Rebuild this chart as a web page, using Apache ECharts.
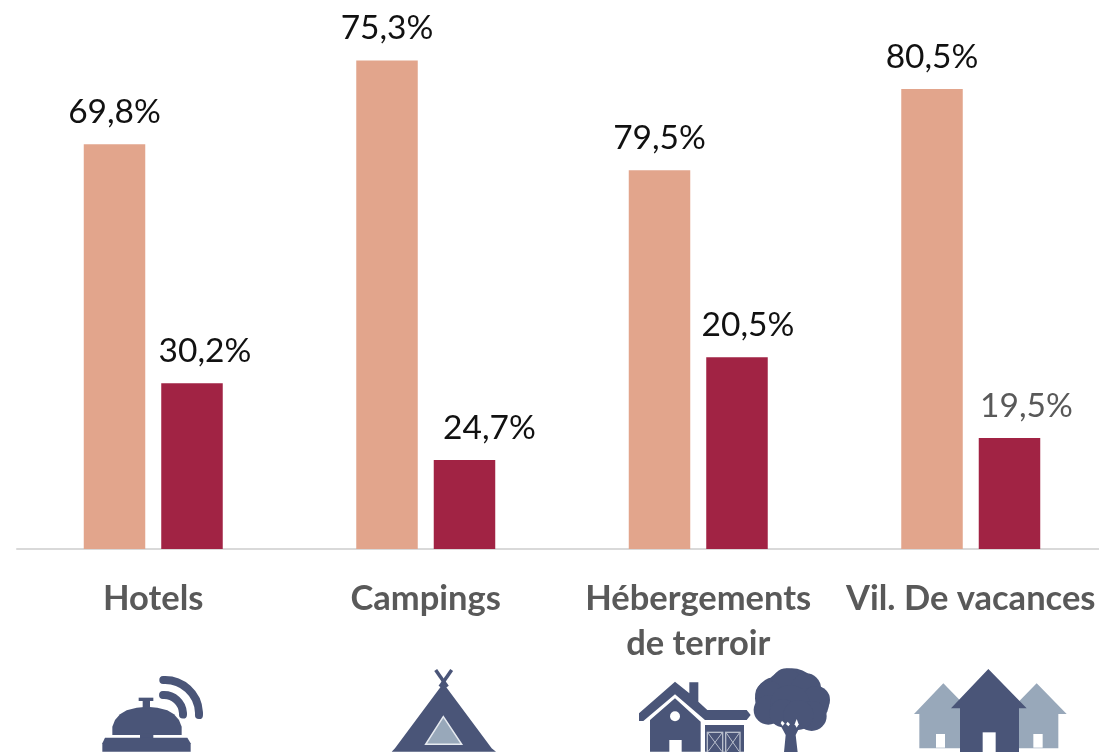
<!DOCTYPE html>
<html><head><meta charset="utf-8">
<style>html,body{margin:0;padding:0;background:#fff}#c{width:1099px;height:752px}</style>
<script src="https://cdn.jsdelivr.net/npm/echarts@6/dist/echarts.min.js"></script>
</head><body><div id="c"></div>
<script>
const categories = ['Hotels','Campings','Hébergements\nde terroir','Vil. De vacances'];
// bar lengths as drawn in the picture (they are not proportional to the printed labels)
const seriesA = [62.3,75.2,58.3,70.8];
const seriesB = [25.5,13.7,29.5,17.1];
const labelsA = ['69,8%','75,3%','79,5%','80,5%'];
const labelsB = ['30,2%','24,7%','20,5%','19,5%'];
const offsetsB = [13,25,11,17];
const colorA = '#E2A58C', colorB = '#A12344', dark = '#4A5578', light = '#98A8BA';
const FONT = 'Lato';

function P(ox,oy,pts,fill,extra){
  return Object.assign({type:'polygon',silent:true,
    shape:{points:pts.map(p=>[p[0]/3+ox,p[1]/3+oy])},
    style:Object.assign({fill:fill},extra||{})});
}
function C(ox,oy,x,y,r,fill){
  return {type:'circle',silent:true,shape:{cx:x/3+ox,cy:y/3+oy,r:r/3},style:{fill:fill}};
}
function L(ox,oy,a,b,stroke,w){
  return {type:'line',silent:true,shape:{x1:a[0]/3+ox,y1:a[1]/3+oy,x2:b[0]/3+ox,y2:b[1]/3+oy},style:{stroke:stroke,lineWidth:w}};
}
function R(ox,oy,x0,y0,x1,y1,fill){ return P(ox,oy,[[x0,y0],[x1,y0],[x1,y1],[x0,y1]],fill); }
function Arc(cx,cy,r,w){
  return {type:'arc',silent:true,shape:{cx:cx,cy:cy,r:r,startAngle:-Math.PI/2-0.05,endAngle:0.03},style:{stroke:dark,fill:null,lineWidth:w,lineCap:'round'}};
}
const a=[80,655], b=[620,655];
const icons = [
  // bell
  P(a[0],a[1],[[97,240],[97,215],[105,195],[120,178],[140,166],[170,158],[201,155],[232,158],[262,166],[282,178],[297,195],[305,215],[305,240]],dark),
  R(a[0],a[1],188,135,210,160,dark),
  R(a[0],a[1],176,128,220,138,dark),
  R(a[0],a[1],180,236,220,250,dark),
  P(a[0],a[1],[[75,248],[322,248],[332,265],[332,290],[67,290],[67,265]],dark),
  Arc(165,714,34,8), Arc(164,714,19,8),
  // tent
  L(a[0],a[1],[1067,45],[1102,95],dark,3.5),
  L(a[0],a[1],[1115,45],[1080,95],dark,3.5),
  P(a[0],a[1],[[1090,85],[1235,280],[1248,290],[935,290],[945,280]],dark),
  P(a[0],a[1],[[1090,185],[1145,268],[1037,268]],light,{stroke:'#E6EAF0',lineWidth:1.5}),
  // farm house
  P(b[0],b[1],[[57,175],[165,80],[208,115],[208,82],[235,82],[235,140],[262,165],[380,165],[392,180],[380,195],[255,195],[165,118],[70,198],[57,198]],dark),
  P(b[0],b[1],[[90,195],[165,130],[242,200],[242,290],[185,290],[185,255],[148,255],[148,290],[90,290]],dark),
  C(b[0],b[1],165,184,15,'#fff'),
  R(b[0],b[1],255,210,372,290,dark),
  R(b[0],b[1],260,230,310,292,'#B9BFCC'),R(b[0],b[1],264,234,306,292,dark),
  R(b[0],b[1],315,230,362,292,'#B9BFCC'),R(b[0],b[1],319,234,358,292,dark),
  L(b[0],b[1],[264,234],[306,290],'#B9BFCC',1),L(b[0],b[1],[306,234],[264,290],'#B9BFCC',1),
  L(b[0],b[1],[319,234],[358,290],'#B9BFCC',1),L(b[0],b[1],[358,234],[319,290],'#B9BFCC',1),
  // tree
  C(b[0],b[1],515,125,85,dark),C(b[0],b[1],470,130,65,dark),C(b[0],b[1],565,145,62,dark),
  C(b[0],b[1],500,85,45,dark),C(b[0],b[1],558,100,45,dark),C(b[0],b[1],588,135,42,dark),
  C(b[0],b[1],448,120,42,dark),C(b[0],b[1],445,165,44,dark),C(b[0],b[1],510,150,60,dark),
  C(b[0],b[1],575,183,45,dark),C(b[0],b[1],490,175,42,dark),C(b[0],b[1],535,180,45,dark),
  P(b[0],b[1],[[492,292],[497,240],[478,205],[545,205],[527,240],[533,292]],dark),
  P(b[0],b[1],[[486,197],[494,205],[488,213],[482,205]],'#fff'),
  P(b[0],b[1],[[503,200],[510,208],[505,214],[498,207]],'#fff'),
  P(b[0],b[1],[[530,192],[536,208],[530,218],[524,208]],'#fff'),
  // holiday houses
  P(b[0],b[1],[[882,177],[970,85],[1060,177],[1060,280],[898,280],[898,177]],light),
  P(b[0],b[1],[[1340,177],[1250,85],[1160,177],[1160,280],[1315,280],[1315,177]],light),
  R(b[0],b[1],948,237,975,278,'#fff'),
  R(b[0],b[1],1240,237,1268,278,'#fff'),
  P(b[0],b[1],[[993,160],[1105,42],[1220,160],[1197,160],[1197,292],[1020,292],[1020,160]],dark),
  R(b[0],b[1],1088,232,1127,292,'#fff')
];

function bar(vals,labels,color,offsets,labelColors){
  return {type:'bar',barWidth:61.5,barGap:'26%',silent:true,
    itemStyle:{color:color},
    data:vals.map((v,i)=>({value:v,label:{
      show:true,position:'top',distance:15,formatter:labels[i],
      fontFamily:FONT,fontSize:33.5,color:labelColors?labelColors[i]:'#111',
      offset:[offsets?offsets[i]:0,0]}}))};
}
const chart = echarts.init(document.getElementById('c'),null,{renderer:'canvas'});
chart.setOption({
  animation:false,backgroundColor:'#fff',
  grid:{left:17,top:0,width:1090,height:549,containLabel:false,outerBoundsMode:'none'},
  xAxis:{type:'category',data:categories,
    axisLine:{lineStyle:{color:'#D9D9D9',width:2}},axisTick:{show:false},
    axisLabel:{interval:0,margin:27,fontFamily:FONT,fontWeight:'bold',fontSize:34.5,lineHeight:45,color:'#595959',hideOverlap:false}},
  yAxis:{type:'value',min:0,max:84.5,show:false,splitLine:{show:false}},
  series:[
    bar(seriesA,labelsA,colorA),
    bar(seriesB,labelsB,colorB,offsetsB,['#111','#111','#111','#595959'])
  ],
  graphic:{elements:icons}
});
</script></body></html>
